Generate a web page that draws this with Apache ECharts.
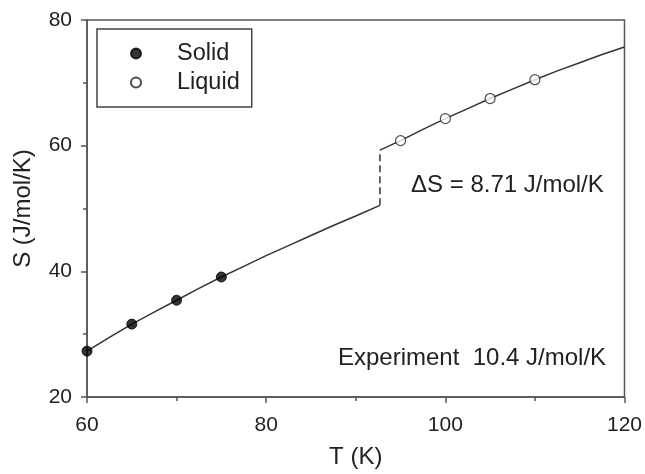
<!DOCTYPE html>
<html>
<head>
<meta charset="utf-8">
<script src="https://cdn.jsdelivr.net/npm/echarts@6/dist/echarts.min.js"></script>
<style>
  html, body { margin: 0; padding: 0; background: #fff; }
  #chart { width: 645px; height: 474px; }
</style>
</head>
<body>
<div id="chart"></div>
<script>
// measured points
const solidT = [60, 65, 70, 75]
const solidS = [27.3, 31.6, 35.4, 39.1]
const liquidT = [95, 100, 105, 110]
const liquidS = [60.8, 64.3, 67.5, 70.5]

// fitted curves
const solidFitT = [60, 62.5, 65, 67.5, 70, 72.5, 75, 77.5, 80, 82.5, 85, 87.5, 90, 92.7]
const solidFitS = [27.3, 29.5, 31.6, 33.5, 35.4, 37.3, 39.1, 40.8, 42.5, 44.1, 45.7, 47.3, 48.8, 50.5]
const liquidFitT = [92.7, 95, 97.5, 100, 102.5, 105, 107.5, 110, 112.5, 115, 117.5, 120]
const liquidFitS = [59.3, 60.8, 62.6, 64.3, 65.9, 67.5, 69.0, 70.5, 71.9, 73.2, 74.5, 75.7]

// melting jump
const meltT = 92.7
const jumpS = [50.5, 59.3]

const xTicks = [60, 80, 100, 120]
const yTicks = [20, 40, 60, 80]

const zip = (a, b) => a.map((v, i) => [v, b[i]])

const font = 'Liberation Sans, Arial, sans-serif'
const axisColor = '#555'
const textColor = '#222'

const chart = echarts.init(document.getElementById('chart'))

const axisCommon = {
    type: 'value',
    nameLocation: 'middle',
    nameTextStyle: { fontSize: 24, color: textColor, fontFamily: font },
    axisLine: { show: true, onZero: false, lineStyle: { color: axisColor, width: 1.5 } },
    axisTick: { show: true, inside: false, length: 6, lineStyle: { color: axisColor, width: 1.5 } },
    minorTick: { show: true, splitNumber: 2, length: 4, lineStyle: { color: axisColor, width: 1.5 } },
    splitLine: { show: false },
    axisLabel: { fontSize: 21, color: textColor, fontFamily: font }
}

const option = {
    animation: false,
    backgroundColor: '#fff',
    grid: {
        left: 87, right: 20, top: 20, bottom: 70,
        show: true,
        borderColor: axisColor,
        borderWidth: 1.5
    },
    xAxis: {
        ...axisCommon,
        name: 'T (K)',
        nameGap: 48,
        min: xTicks[0],
        max: xTicks[xTicks.length - 1],
        interval: 20,
        axisLabel: { ...axisCommon.axisLabel, margin: 18 }
    },
    yAxis: {
        ...axisCommon,
        name: 'S (J/mol/K)',
        nameGap: 52,
        min: yTicks[0],
        max: yTicks[yTicks.length - 1],
        interval: 20,
        axisLabel: { ...axisCommon.axisLabel, margin: 15 }
    },
    legend: {
        data: ['Solid', 'Liquid'],
        orient: 'vertical',
        left: 97,
        top: 29,
        padding: [10, 12, 10, 33],
        itemGap: 0,
        itemWidth: 10,
        itemHeight: 10,
        borderColor: '#444',
        borderWidth: 1.5,
        borderRadius: 0,
        textStyle: {
            fontSize: 23.5,
            color: textColor,
            fontFamily: font,
            lineHeight: 29,
            padding: [0, 0, 0, 31]
        }
    },
    series: [
        {
            type: 'line',
            data: zip(solidFitT, solidFitS),
            showSymbol: false,
            lineStyle: { color: '#333', width: 1.5 },
            silent: true, z: 2
        },
        {
            type: 'line',
            data: zip(liquidFitT, liquidFitS),
            showSymbol: false,
            lineStyle: { color: '#333', width: 1.5 },
            silent: true, z: 2
        },
        {
            type: 'line',
            data: [[meltT, jumpS[0]], [meltT, jumpS[1]]],
            showSymbol: false,
            lineStyle: { color: '#333', width: 1.5, type: [7, 4] },
            silent: true, z: 2
        },
        {
            name: 'Solid',
            type: 'scatter',
            data: zip(solidT, solidS),
            symbol: 'circle',
            symbolSize: 10,
            itemStyle: { color: '#000', borderColor: '#000', borderWidth: 1 },
            z: 3
        },
        {
            name: 'Liquid',
            type: 'scatter',
            data: zip(liquidT, liquidS),
            symbol: 'circle',
            symbolSize: 10,
            itemStyle: { color: '#fff', borderColor: '#222', borderWidth: 1.2 },
            z: 3
        }
    ],
    graphic: [
        {
            type: 'text',
            left: 411,
            top: 173,
            style: { text: 'ΔS = 8.71 J/mol/K', fontSize: 24, fill: textColor, fontFamily: font }
        },
        {
            type: 'text',
            left: 338,
            top: 346,
            style: { text: 'Experiment  10.4 J/mol/K', fontSize: 24, fill: textColor, fontFamily: font }
        }
    ]
}

chart.setOption(option)
</script>
</body>
</html>
